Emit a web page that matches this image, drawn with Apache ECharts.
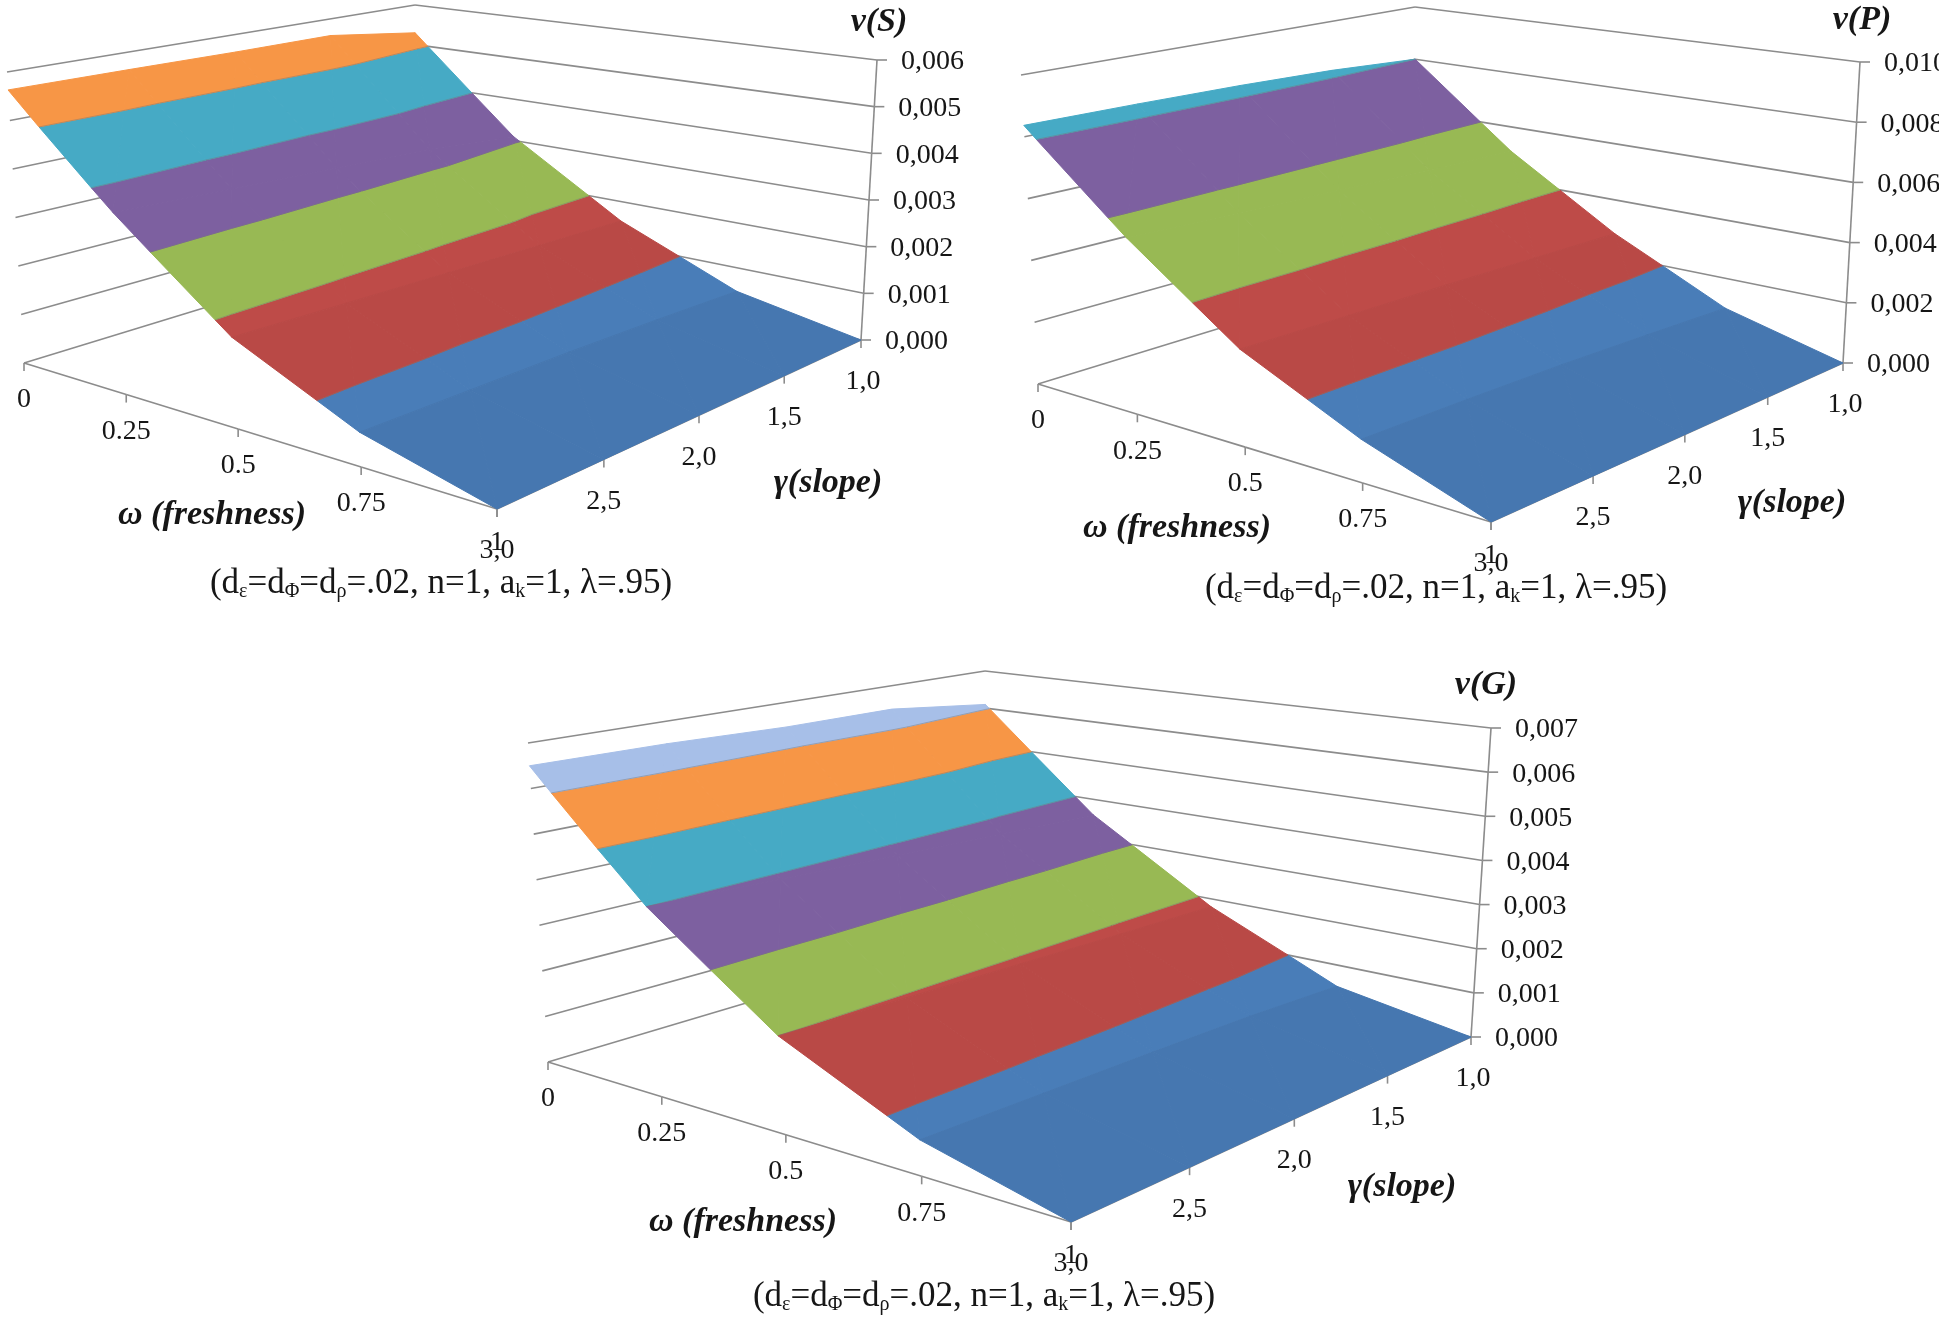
<!DOCTYPE html>
<html>
<head>
<meta charset="utf-8">
<style>
  html, body { margin: 0; padding: 0; background: #fff; }
  #chart { width: 1946px; height: 1320px; }
</style>
<script src="https://cdn.jsdelivr.net/npm/echarts@6/dist/echarts.min.js"></script>
</head>
<body>
<div id="chart"></div>
<script>
// 轴刻度
const omegaTicks = [0, 0.25, 0.5, 0.75, 1]
const omegaLabels = ['0', '0.25', '0.5', '0.75', '1']
const gammaTicks = [1, 1.5, 2, 2.5, 3]
const gammaLabels = ['1,0', '1,5', '2,0', '2,5', '3,0']
const zTicksS = [0, 0.001, 0.002, 0.003, 0.004, 0.005, 0.006]
const zTicksP = [0, 0.002, 0.004, 0.006, 0.008, 0.01]
const zTicksG = [0, 0.001, 0.002, 0.003, 0.004, 0.005, 0.006, 0.007]

// 曲面数值: 每行一个 omega, 每列一个 gamma
const surfaceS = [
  [0.0053, 0.0056, 0.0056, 0.00562, 0.00563],
  [0.0031, 0.0033, 0.0034, 0.0035, 0.0036],
  [0.00155, 0.0016, 0.00165, 0.0017, 0.00175],
  [0.00048, 0.00055, 0.0006, 0.00062, 0.00064],
  [0, 0, 0, 0, 0]
]
const surfaceP = [
  [0.008, 0.0082, 0.0083, 0.00835, 0.00837],
  [0.0051, 0.0052, 0.0053, 0.0054, 0.0055],
  [0.0028, 0.00285, 0.0029, 0.00292, 0.00295],
  [0.00098, 0.0011, 0.0012, 0.00125, 0.00127],
  [0, 0, 0, 0, 0]
]
const surfaceG = [
  [0.0061, 0.0064, 0.0064, 0.00648, 0.0065],
  [0.0036, 0.0037, 0.0038, 0.0039, 0.004],
  [0.00181, 0.00185, 0.0019, 0.00195, 0.002],
  [0.0005, 0.0006, 0.00065, 0.00068, 0.00071],
  [0, 0, 0, 0, 0]
]

// 色带, 依次对应每个刻度区间
const bandColors = ['#4b80bd', '#be4b48', '#98b954', '#7d60a0', '#46aac5', '#f79646', '#a7bfe8']
// 每一排网格的明暗
const rowShade = [1, 1, 0.975, 0.93]

const lineColor = '#8c8c8c'
const textColor = '#161616'
const serif = '"Liberation Serif", serif'

// 每个面板的盒子四角: back/right/front/left 的底面和顶面
const panels = [
  {
    zTicks: zTicksS, surface: surfaceS,
    floor: [[416, 243], [861, 340], [497, 509], [24, 363]],
    top: [[415, 5], [877, 60], [499, 171], [7, 72]]
  },
  {
    zTicks: zTicksP, surface: surfaceP,
    floor: [[1416, 268], [1843, 363], [1491, 522], [1038, 384]],
    top: [[1415, 7], [1860, 62], [1493, 167], [1021, 75]]
  },
  {
    zTicks: zTicksG, surface: surfaceG,
    floor: [[988, 931], [1471, 1037], [1071, 1222], [548, 1062]],
    top: [[985, 671], [1491, 728], [1074, 850], [528, 743]]
  }
]

// 单位正方形到四边形的透视变换
function makeHomography (q) {
  const [[x0, y0], [x1, y1], [x2, y2], [x3, y3]] = q
  const sx = x0 - x1 + x2 - x3
  const sy = y0 - y1 + y2 - y3
  const dx1 = x1 - x2
  const dx2 = x3 - x2
  const dy1 = y1 - y2
  const dy2 = y3 - y2
  const den = dx1 * dy2 - dx2 * dy1
  const g = (sx * dy2 - dx2 * sy) / den
  const h = (dx1 * sy - sx * dy1) / den
  const a = x1 - x0 + g * x1
  const b = x3 - x0 + h * x3
  const d = y1 - y0 + g * y1
  const e = y3 - y0 + h * y3
  return (u, v) => {
    const w = g * u + h * v + 1
    return [(a * u + b * v + x0) / w, (d * u + e * v + y0) / w]
  }
}

panels.forEach((p) => {
  p.floorMap = makeHomography(p.floor)
  p.topMap = makeHomography(p.top)
  p.zMax = p.zTicks[p.zTicks.length - 1]
})

// omega 和 z 先过坐标轴的比例尺, 再投影到盒子里
function projector (panel, params, api) {
  const box = params.coordSys
  return (omega, gamma, z) => {
    const c = api.coord([omega, z])
    const u = (c[0] - box.x) / box.width
    const t = (box.y + box.height - c[1]) / box.height
    const v = (gamma - gammaTicks[0]) / (gammaTicks[4] - gammaTicks[0])
    const a = panel.floorMap(u, v)
    const b = panel.topMap(u, v)
    return [a[0] + (b[0] - a[0]) * t, a[1] + (b[1] - a[1]) * t]
  }
}

function line (a, b) {
  return {
    type: 'line',
    shape: { x1: a[0], y1: a[1], x2: b[0], y2: b[1] },
    style: { stroke: lineColor, lineWidth: 1.6 }
  }
}

function label (text, x, y, align) {
  return {
    type: 'text',
    x: x,
    y: y,
    style: {
      text: text,
      font: '28px ' + serif,
      fill: textColor,
      align: align || 'center',
      verticalAlign: 'middle'
    }
  }
}

// 在 z 的某一侧裁剪多边形
function clipZ (poly, limit, keepAbove) {
  const out = []
  for (let i = 0; i < poly.length; i++) {
    const a = poly[i]
    const b = poly[(i + 1) % poly.length]
    const ina = keepAbove ? a[2] >= limit : a[2] <= limit
    const inb = keepAbove ? b[2] >= limit : b[2] <= limit
    if (ina) out.push(a)
    if (ina !== inb) {
      const s = (limit - a[2]) / (b[2] - a[2])
      out.push([a[0] + (b[0] - a[0]) * s, a[1] + (b[1] - a[1]) * s, limit])
    }
  }
  return out
}

function shade (hex, f) {
  const n = parseInt(hex.slice(1), 16)
  const c = [n >> 16, (n >> 8) & 255, n & 255].map((v) => Math.round(v * f))
  return 'rgb(' + c.join(',') + ')'
}

// 墙面网格线和 z 轴
function renderWalls (panel, params, api) {
  const pr = projector(panel, params, api)
  const z = api.value(1)
  const first = omegaTicks[0]
  const last = omegaTicks[4]
  const g0 = gammaTicks[0]
  const g1 = gammaTicks[4]
  const end = pr(last, g0, z)
  const children = [
    line(pr(first, g1, z), pr(first, g0, z)),
    line(pr(first, g0, z), end),
    line(end, [end[0] + 10, end[1]]),
    label(z.toFixed(3).replace('.', ','), end[0] + 24, end[1] + 2, 'left')
  ]
  if (params.dataIndex > 0) {
    const prev = panel.zTicks[params.dataIndex - 1]
    children.push(line(pr(last, g0, prev), end))
  }
  return { type: 'group', children: children }
}

// 底面两条坐标轴和刻度
function renderOmega (panel, params, api) {
  const pr = projector(panel, params, api)
  const i = params.dataIndex
  const a = pr(omegaTicks[i], gammaTicks[4], 0)
  const children = [
    line(a, [a[0], a[1] + 8]),
    // 最后一个标签在原图里压在 3,0 上面
    label(omegaLabels[i], a[0], a[1] + (i === 4 ? 34 : 37))
  ]
  if (i < 4) children.push(line(a, pr(omegaTicks[i + 1], gammaTicks[4], 0)))
  return { type: 'group', children: children }
}

function renderGamma (panel, params, api) {
  const pr = projector(panel, params, api)
  const i = params.dataIndex
  const a = pr(omegaTicks[4], gammaTicks[i], 0)
  const children = [
    line(a, [a[0], a[1] + 8]),
    label(gammaLabels[i], a[0] + (i === 0 ? 2 : 0), a[1] + 42)
  ]
  if (i < 4) children.push(line(a, pr(omegaTicks[4], gammaTicks[i + 1], 0)))
  return { type: 'group', children: children }
}

// 曲面: 每个网格拆成两个三角形, 再按色带切开
function renderCell (panel, params, api) {
  const pr = projector(panel, params, api)
  const i = api.value(3)
  const j = api.value(4)
  const vert = (r, c) => [omegaTicks[r], gammaTicks[c], panel.surface[r][c]]
  const tris = [
    [vert(i, j), vert(i + 1, j), vert(i + 1, j + 1)],
    [vert(i, j), vert(i + 1, j + 1), vert(i, j + 1)]
  ]
  const children = []
  const borders = []
  tris.forEach((tri) => {
    for (let b = 0; b < panel.zTicks.length - 1; b++) {
      const hi = panel.zTicks[b + 1]
      let poly = clipZ(tri, panel.zTicks[b], true)
      if (poly.length) poly = clipZ(poly, hi, false)
      if (poly.length < 3) continue
      const color = shade(bandColors[b], rowShade[i])
      children.push({
        type: 'polygon',
        shape: { points: poly.map((q) => pr(q[0], q[1], q[2])) },
        style: { fill: color, stroke: color, lineWidth: 1 }
      })
      // 色带交界处的灰线
      poly.forEach((q, k) => {
        const n = poly[(k + 1) % poly.length]
        if (q[2] === hi && n[2] === hi) {
          borders.push({
            type: 'line',
            shape: {
              x1: pr(q[0], q[1], hi)[0],
              y1: pr(q[0], q[1], hi)[1],
              x2: pr(n[0], n[1], hi)[0],
              y2: pr(n[0], n[1], hi)[1]
            },
            style: { stroke: 'rgba(120,120,120,0.45)', lineWidth: 1 },
            z2: 5
          })
        }
      })
    }
  })
  return { type: 'group', children: children.concat(borders) }
}

function cellRows (panel) {
  const rows = []
  for (let i = 0; i < 4; i++) {
    for (let j = 0; j < 4; j++) {
      rows.push([omegaTicks[i], panel.surface[i][j], gammaTicks[j], i, j])
    }
  }
  return rows
}

const grid = []
const xAxis = []
const yAxis = []
const series = []

panels.forEach((panel, idx) => {
  // 隐藏的比例尺, 只负责把数值归一化
  grid.push({ left: 0, top: 0, width: 100, height: 100, show: false })
  xAxis.push({ type: 'value', gridIndex: idx, min: 0, max: 1, show: false })
  yAxis.push({ type: 'value', gridIndex: idx, min: 0, max: panel.zMax, show: false })
  const base = {
    type: 'custom',
    xAxisIndex: idx,
    yAxisIndex: idx,
    clip: false,
    silent: true,
    animation: false
  }
  series.push(Object.assign({}, base, {
    z: 2,
    data: panel.zTicks.map((z) => [0, z]),
    renderItem: (params, api) => renderWalls(panel, params, api)
  }))
  series.push(Object.assign({}, base, {
    z: 2,
    data: omegaTicks.map((w) => [w, 0]),
    renderItem: (params, api) => renderOmega(panel, params, api)
  }))
  series.push(Object.assign({}, base, {
    z: 2,
    data: gammaTicks.map(() => [1, 0]),
    renderItem: (params, api) => renderGamma(panel, params, api)
  }))
  series.push(Object.assign({}, base, {
    z: 3,
    data: cellRows(panel),
    renderItem: (params, api) => renderCell(panel, params, api)
  }))
})

function axisName (text, x, y) {
  return {
    type: 'text',
    x: x,
    y: y,
    z: 50,
    style: {
      text: text,
      font: 'italic bold 34px ' + serif,
      fill: textColor,
      align: 'center',
      verticalAlign: 'middle'
    }
  }
}

const paramText = '(d{s|ε}=d{s|Φ}=d{s|ρ}=.02, n=1, a{s|k}=1, λ=.95)'

function paramLabel (x, y) {
  return {
    type: 'text',
    x: x,
    y: y,
    z: 50,
    style: {
      text: paramText,
      font: '35px ' + serif,
      fill: textColor,
      align: 'center',
      verticalAlign: 'middle',
      rich: {
        s: { font: '20px ' + serif, fill: textColor, verticalAlign: 'bottom', lineHeight: 34 }
      }
    }
  }
}

const chart = echarts.init(document.getElementById('chart'))
chart.setOption({
  backgroundColor: '#fff',
  animation: false,
  grid: grid,
  xAxis: xAxis,
  yAxis: yAxis,
  series: series,
  graphic: [
    axisName('v(S)', 879, 22),
    axisName('ω (freshness)', 212, 515),
    axisName('γ(slope)', 828, 483),
    paramLabel(441, 584),
    axisName('v(P)', 1862, 20),
    axisName('ω (freshness)', 1177, 528),
    axisName('γ(slope)', 1792, 503),
    paramLabel(1436, 589),
    axisName('v(G)', 1486, 685),
    axisName('ω (freshness)', 743, 1222),
    axisName('γ(slope)', 1402, 1187),
    paramLabel(984, 1297),
    // 原图右边缘把 0,010 的标签截断了
    { type: 'rect', z: 60, shape: { x: 1939, y: 0, width: 7, height: 400 }, style: { fill: '#fff' } }
  ]
})
</script>
</body>
</html>
